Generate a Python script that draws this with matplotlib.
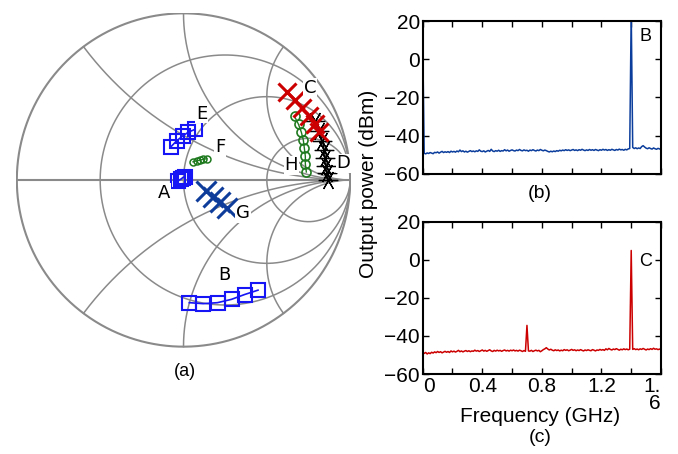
import numpy as np
import matplotlib
matplotlib.use("Agg")
import matplotlib.pyplot as plt

# ---------------- Smith chart data (reflection coefficient, re / im) ----------------
A_re = [-0.033, -0.015, -0.003, 0.009]
A_im = [-0.006, 0.006, 0.015, 0.021]
E_re = [-0.076, -0.041, -0.005, 0.029, 0.069]
E_im = [0.199, 0.235, 0.264, 0.287, 0.304]
F_re = [0.057, 0.079, 0.099, 0.118, 0.140]
F_im = [0.109, 0.115, 0.119, 0.124, 0.128]
G_re = [0.134, 0.176, 0.218, 0.260]
G_im = [-0.066, -0.101, -0.131, -0.167]
B_re = [0.035, 0.118, 0.204, 0.288, 0.367, 0.447]
B_im = [-0.736, -0.742, -0.736, -0.716, -0.687, -0.661]
C_re = [0.618, 0.666, 0.713, 0.755, 0.791, 0.815]
C_im = [0.525, 0.478, 0.430, 0.382, 0.334, 0.287]
D_re = [0.791, 0.815, 0.833, 0.845, 0.851, 0.857, 0.863, 0.869]
D_im = [0.352, 0.293, 0.233, 0.179, 0.131, 0.084, 0.042, 0.0]
H_re = [0.666, 0.690, 0.707, 0.719, 0.725, 0.731, 0.731, 0.737]
H_im = [0.382, 0.334, 0.287, 0.239, 0.191, 0.143, 0.096, 0.048]

point_labels = ["C", "E", "F", "H", "D", "A", "G", "B"]
label_re = [0.761, 0.109, 0.221, 0.648, 0.958, -0.116, 0.357, 0.244]
label_im = [0.551, 0.398, 0.199, 0.088, 0.100, -0.076, -0.199, -0.569]

grid_r = [1/3, 1.0, 3.0]
grid_x = [0.5, 1.0, 2.0]

# ---------------- Spectra ----------------
freq_start, freq_stop, n_freq = 0.0, 1.6, 161
spec_b = [11.0,
    -49.3,-49.6,-49.1,-49.4,-48.9,-49.2,-49.5,-48.8,-49.0,-48.6,-49.2,-48.7,-48.3,-48.9,-48.5,-48.8,-48.4,-48.9,-48.2,-48.6,
    -48.3,-48.7,-48.1,-48.5,-47.6,-48.4,-48.0,-48.6,-48.2,-48.7,-48.3,-47.9,-48.4,-48.1,-48.5,-48.0,-48.3,-47.5,-48.2,-48.4,
    -48.0,-48.6,-48.2,-47.8,-48.3,-47.2,-48.1,-48.4,-47.9,-48.2,-47.7,-48.3,-47.9,-48.1,-47.4,-48.0,-47.6,-48.2,-47.8,-47.5,
    -47.9,-48.1,-47.6,-47.9,-47.3,-47.8,-48.0,-47.5,-47.9,-47.7,-48.2,-47.6,-47.9,-47.4,-47.8,-48.1,-47.6,-47.9,-47.3,-47.7,
    -48.0,-47.6,-47.9,-48.3,-48.6,-48.2,-48.5,-48.1,-48.4,-47.9,-48.2,-47.7,-48.0,-47.6,-47.9,-47.4,-47.8,-47.5,-47.9,-47.6,
    -47.3,-47.8,-47.5,-47.9,-47.4,-47.7,-47.2,-47.6,-47.9,-47.5,-47.8,-47.3,-47.7,-47.4,-47.8,-47.3,-47.6,-47.9,-47.4,-47.7,
    -47.2,-47.6,-47.3,-47.8,-47.4,-47.7,-47.2,-47.5,-47.8,-47.3,-47.6,-47.1,-47.5,-47.3,-47.7,-47.2,-47.5,-47.0,-46.8,25.0,
    -46.2,-46.8,-46.4,-46.9,-46.5,-46.8,-45.8,-45.3,-46.0,-46.6,-46.9,-46.4,-46.8,-47.1,-46.5,-46.9,-47.2,-46.7,-47.0,-47.3]
spec_c = [-48.5,
    -49.2,-48.7,-49.5,-48.9,-49.3,-48.6,-49.0,-48.4,-48.8,-48.2,-48.7,-48.3,-48.9,-48.5,-48.1,-48.6,-48.2,-48.7,-47.9,-48.4,
    -48.0,-48.5,-48.1,-47.6,-48.3,-47.9,-48.4,-48.0,-47.7,-48.2,-47.8,-48.3,-47.9,-48.1,-47.5,-48.0,-47.7,-48.2,-47.8,-47.4,
    -48.0,-47.6,-48.1,-47.7,-47.3,-47.9,-48.2,-47.6,-48.0,-47.5,-47.9,-47.6,-48.1,-47.7,-47.4,-47.9,-47.6,-48.0,-47.5,-47.8,
    -47.4,-47.9,-47.6,-48.0,-47.5,-47.8,-48.2,-47.7,-48.1,-34.5,-47.9,-48.0,-47.6,-48.2,-47.8,-47.5,-47.9,-47.6,-48.3,-47.8,
    -47.2,-46.8,-46.2,-46.9,-47.4,-47.0,-47.5,-47.8,-47.3,-47.7,-47.4,-47.9,-47.5,-47.8,-47.2,-47.6,-47.3,-47.8,-47.5,-47.1,
    -47.6,-47.3,-47.8,-47.4,-47.7,-47.2,-47.6,-47.9,-47.4,-47.7,-47.3,-47.6,-47.8,-47.2,-47.5,-47.9,-47.4,-47.6,-47.1,-47.5,
    -47.2,-47.6,-46.8,-47.3,-46.6,-47.1,-47.4,-46.9,-47.2,-46.7,-47.1,-47.5,-47.0,-47.3,-46.8,-47.2,-46.9,-47.3,-47.0,4.8,
    -47.1,-46.7,-47.2,-46.9,-47.3,-46.8,-47.1,-46.6,-47.0,-47.4,-46.9,-47.2,-46.7,-47.1,-46.5,-47.0,-46.8,-47.2,-46.9,-47.3]
peak_labels = ["B", "C"]
y_ticks = [-60, -40, -20, 0, 20]
x_ticks = [0, 0.2, 0.4, 0.6, 0.8, 1.0, 1.2, 1.4, 1.6]
x_ticklabels = ["0", "", "0.4", "", "0.8", "", "1.2", "", "1.\n6"]

W, H = 678, 454
fig = plt.figure(figsize=(W / 100, H / 100), dpi=100)

# ---------------- Smith chart ----------------
ax = fig.add_axes([16 / W, 1 - 347.5 / H, 335 / W, 335 / H])
ax.set_xlim(-1.005, 1.005)
ax.set_ylim(-1.005, 1.005)
ax.axis("off")
gcol = "#8a8a8a"
t = np.linspace(0, 2 * np.pi, 500)
ax.plot(np.cos(t), np.sin(t), color=gcol, lw=1.5, zorder=1)
ax.plot([-1, 1], [0, 0], color=gcol, lw=1.5, zorder=1)
for r in grid_r:
    c, rad = r / (1 + r), 1 / (1 + r)
    ax.plot(c + rad * np.cos(t), rad * np.sin(t), color=gcol, lw=1.1, zorder=1)
rr = np.concatenate([np.linspace(0, 5, 400), np.logspace(np.log10(5), 4, 300)])
for xv in grid_x:
    for s in (1, -1):
        z = rr + 1j * s * xv
        g = (z - 1) / (z + 1)
        ax.plot(g.real, g.imag, color=gcol, lw=1.1, zorder=1)

blue = "#1515f5"
ax.plot(A_re, A_im, "-s", color=blue, mfc="none", ms=10.5, mew=1.5, lw=1.2, zorder=3)
ax.plot(E_re, E_im, "-s", color=blue, mfc="none", ms=10.5, mew=1.5, lw=1.2, zorder=3)
ax.plot(B_re, B_im, "-s", color=blue, mfc="none", ms=10.5, mew=1.5, lw=1.2, zorder=3)
green = "#1f7a1f"
ax.plot(F_re, F_im, "-o", color=green, mfc="none", ms=5, mew=1.1, lw=1.0, zorder=3)
ax.plot(H_re, H_im, "-o", color=green, mfc="none", ms=6.5, mew=1.2, lw=1.0, zorder=3)
ax.plot(G_re, G_im, "-x", color="#0d3c9a", ms=14, mew=2.2, lw=1.5, zorder=3)
ax.plot(D_re, D_im, "-", color="black", lw=1.0, zorder=3)
ax.plot(D_re, D_im, linestyle="none", marker=(6, 2, 90), color="black", ms=14, mew=0.9, zorder=3)
ax.plot(C_re[2:], C_im[2:], "-", color=blue, lw=1.2, zorder=3)
ax.plot(C_re, C_im, linestyle="none", marker="x", color="#cc0000", ms=12.5, mew=2.2, zorder=4)

for lab, xr, yi in zip(point_labels, label_re, label_im):
    ax.text(xr, yi, lab, fontsize=13, ha="center", va="center", family="DejaVu Sans",
            bbox=dict(facecolor="white", edgecolor="none", pad=0.5), zorder=5)
fig.text(185 / W, 1 - 372 / H, "(a)", fontsize=13, ha="center", va="center", family="Liberation Sans")

# ---------------- Spectra ----------------
freq = np.linspace(freq_start, freq_stop, n_freq)
font = "Liberation Sans"
specs = [(spec_b, "#0b3d9c", 1 - 173.7 / H), (spec_c, "#cc0000", 1 - 374 / H)]
for k, (spec, col, y0) in enumerate(specs):
    a = fig.add_axes([422.7 / W, y0, 238.3 / W, 152.5 / H])
    a.plot(freq, spec, color=col, lw=1.1)
    a.set_xlim(0, 1.6)
    a.set_ylim(-60, 20)
    a.set_yticks(y_ticks)
    a.set_xticks(x_ticks)
    a.tick_params(direction="in", top=True, right=True, length=4, width=1, labelsize=15, pad=2)
    for sp in a.spines.values():
        sp.set_linewidth(1.5)
    for lbl in a.get_yticklabels():
        lbl.set_family(font)
    if k == 0:
        a.set_xticklabels([])
    else:
        labels = a.set_xticklabels(x_ticklabels, family=font, fontsize=15, linespacing=0.9)
        labels[0].set_ha("left")
        labels[-1].set_ha("right")
    a.text(0.935, 0.9 if k == 0 else 0.74, peak_labels[k], transform=a.transAxes,
           fontsize=13, ha="center", va="center", family=font)

fig.text(540 / W, 1 - 193 / H, "(b)", fontsize=14, ha="center", va="center", family=font)
fig.text(540 / W, 1 - 416 / H, "Frequency (GHz)", fontsize=15, ha="center", va="center", family=font)
fig.text(540 / W, 1 - 438 / H, "(c)", fontsize=14, ha="center", va="center", family=font)
fig.text(369 / W, 1 - 184 / H, "Output power (dBm)", fontsize=15, rotation=90, ha="center", va="center", family=font)

fig.savefig("out.png", dpi=100)
